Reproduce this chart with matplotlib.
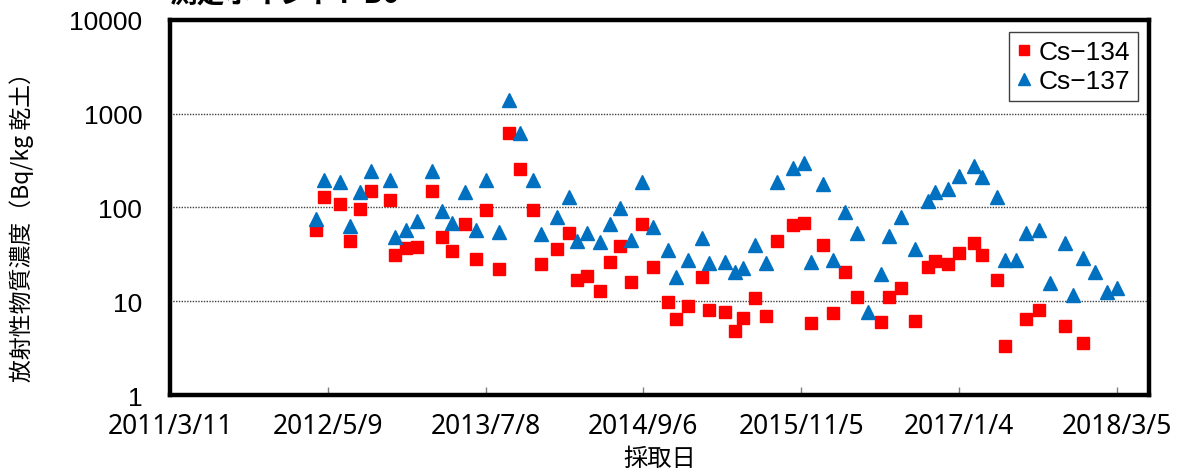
import numpy as np
import pandas as pd
import matplotlib
matplotlib.use("Agg")
import matplotlib.pyplot as plt

plt.rcParams['font.family'] = ['Liberation Sans', 'Noto Sans CJK JP', 'DejaVu Sans']

# 採取日 (2011/3/11 からの経過日数)
base = pd.Timestamp("2011-03-11")
days = [392, 416, 457, 486, 513, 542, 593, 607, 635, 664,
        705, 733, 760, 795, 823, 851, 886, 914, 942, 978,
        1000, 1042, 1074, 1095, 1122, 1159, 1186, 1213, 1242, 1271,
        1300, 1341, 1364, 1395, 1432, 1453, 1494, 1521, 1543, 1577,
        1605, 1635, 1678, 1707, 1727, 1760, 1787, 1817, 1851, 1879,
        1914, 1936, 1969, 2006, 2041, 2062, 2096, 2126, 2166, 2187,
        2228, 2250, 2278, 2306, 2341, 2370, 2412, 2432, 2459, 2492,
        2523, 2550]

# Bq/kg 乾土 (NaN = 不検出)
cs134 = [58, 131, 110, 44, 96, 150, 119, 31, 37, 38,
         150, 49, 34, 67, 28, 95, 22, 630, 259, 93,
         25, 36, 53, 17, 18.7, 12.9, 26, 39, 16, 66,
         23, 9.8, 6.5, 8.8, 18.2, 8.0, 7.6, 4.8, 6.6, 10.9,
         7.0, 43.6, 65.5, 68.8, 5.8, 39.8, 7.5, 20.6, 11, np.nan,
         6.0, 11, 13.9, 6.2, 23, 27, 24.8, 32.8, 41.8, 31,
         16.8, 3.3, np.nan, 6.5, 8.0, np.nan, 5.4, np.nan, 3.6, np.nan,
         np.nan, np.nan]
cs137 = [76, 197, 189, 64, 148, 247, 197, 48, 58, 72,
         247, 91, 68, 148, 58, 197, 55, 1387, 624, 197,
         52, 80, 129, 44, 54, 43, 67, 98, 45, 185,
         62, 35, 18.3, 27.4, 47, 25.3, 26.3, 20.3, 22.4, 39.5,
         25.3, 185, 263, 295, 26.3, 178, 27.4, 89, 53, 7.6,
         19.5, 50, 79, 36, 117, 147, 157, 219, 277, 212,
         128, 27.4, 27.4, 54, 57, 15.5, 42, 11.7, 29, 20.4,
         12.6, 13.7]

tick_labels = ['2011/3/11', '2012/5/9', '2013/7/8', '2014/9/6',
               '2015/11/5', '2017/1/4', '2018/3/5']

dates = base + pd.to_timedelta(days, unit="D")
tick_dates = pd.to_datetime(tick_labels, format="%Y/%m/%d")

fig = plt.figure(figsize=(11.84, 4.77), dpi=100)
ax = fig.add_axes([0.1436, 0.1698, 0.9704 - 0.1436, 0.956 - 0.1698])

ax.plot(dates, cs134, 's', color='#FF0000', markersize=8.6, linestyle='none', label='Cs\u2212134')
ax.plot(dates, cs137, '^', color='#0070C0', markersize=9.5, linestyle='none', label='Cs\u2212137')

ax.set_yscale('log')
ax.set_ylim(1, 10000)
ax.set_yticks([1, 10, 100, 1000, 10000])
ax.set_yticklabels(['1', '10', '100', '1000', '10000'])
ax.yaxis.set_minor_locator(matplotlib.ticker.NullLocator())
ax.set_xlim(base, base + pd.Timedelta(days=2637))
ax.set_xticks(tick_dates)
ax.set_xticklabels(tick_labels, family=['Noto Sans', 'DejaVu Sans'], fontsize=19)

for yv in [10, 100, 1000]:
    ax.axhline(yv, color='#404040', linestyle=(0, (1, 1)), linewidth=1.0, zorder=0)

for s in ax.spines.values():
    s.set_linewidth(3.2)
ax.tick_params(axis='x', direction='in', length=6, width=1, color='#808080', pad=12)
ax.tick_params(axis='y', length=0, pad=20, labelsize=19)

fig.text(0.557, 1 - 459 / 477, '採取日', ha='center', va='center',
         family=['Noto Sans CJK JP', 'DejaVu Sans'], fontsize=17.5)
fig.text(0.018, 0.535, '放射性物質濃度（Bq/kg 乾土）', rotation=90, ha='center', va='center',
         family=['Noto Sans CJK JP', 'DejaVu Sans'], fontsize=16.5)
fig.text(0.143, 1.0 - 3 / 477, '測定ポイントT-B6', ha='left', va='baseline', fontsize=20,
         fontweight='bold', family=['Noto Sans CJK JP', 'DejaVu Sans'])

leg = ax.legend(loc='upper right', bbox_to_anchor=(0.9888, 0.968), borderaxespad=0,
                fontsize=19, markerscale=0.85,
                handlelength=0.5, handletextpad=0.3, borderpad=0.3, labelspacing=0.2,
                fancybox=False, edgecolor='#404040', framealpha=1)
leg.get_frame().set_linewidth(1.0)

fig.savefig('out.png', dpi=100)
